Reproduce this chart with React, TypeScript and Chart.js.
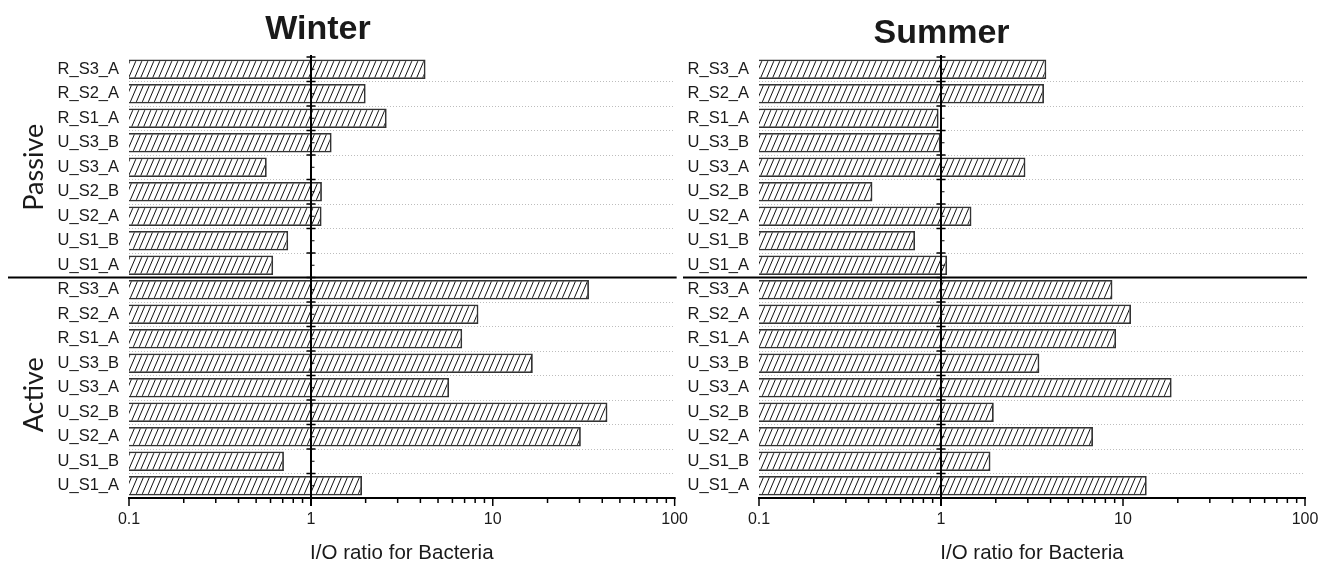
import React, { useEffect, useRef } from 'react';
import { Chart, registerables } from 'chart.js';
Chart.register(...registerables);

// ---------- data ----------
const categories = ['R_S3_A', 'R_S2_A', 'R_S1_A', 'U_S3_B', 'U_S3_A', 'U_S2_B', 'U_S2_A', 'U_S1_B', 'U_S1_A'];
const groupNames = ['Passive', 'Active'];
const winterPassive = [4.27, 2.0, 2.61, 1.3, 0.572, 1.15, 1.145, 0.75, 0.62];
const winterActive = [33.8, 8.34, 6.79, 16.6, 5.75, 42.7, 30.5, 0.711, 1.91];
const summerPassive = [3.79, 3.68, 0.97, 0.995, 2.91, 0.42, 1.47, 0.72, 1.08];
const summerActive = [8.75, 11.07, 9.16, 3.47, 18.5, 1.95, 6.84, 1.87, 13.5];
const xTickValues = [0.1, 1, 10, 100];
const xTickLabels = ['0.1', '1', '10', '100'];
const xMin = 0.1;
const xMax = 100;
const refValue = 1;
const axisTitle = 'I/O ratio for Bacteria';

// ---------- styles ----------
const TEXT = '#1a1a1a';
const SANS = '"Liberation Sans", Arial, sans-serif';
const H = 561;
const TOP = 57;
const BOTTOM_H = 63;

function makeHatch(): CanvasPattern | string {
  const c = document.createElement('canvas');
  c.width = 6;
  c.height = 14;
  const g = c.getContext('2d');
  if (!g) return '#fff';
  g.fillStyle = '#ffffff';
  g.fillRect(0, 0, 6, 14);
  g.strokeStyle = '#111111';
  g.lineWidth = 1;
  for (const x0 of [-6, 0, 6]) {
    g.beginPath();
    g.moveTo(x0, 14);
    g.lineTo(x0 + 6, 0);
    g.stroke();
  }
  return g.createPattern(c, 'repeat') || '#fff';
}

type PanelProps = {
  title: string;
  passive: number[];
  active: number[];
  left: number;
  width: number;
  plotLeft: number;
  padRight: number;
  titleX: number;
  titleY: number;
  sepStart: number;
  showGroups: boolean;
};

function Panel(p: PanelProps) {
  const ref = useRef<HTMLCanvasElement>(null);
  useEffect(() => {
    const canvas = ref.current;
    if (!canvas) return;
    const labels = [...categories, ...categories];
    const values = [...p.passive, ...p.active];
    const hatch = makeHatch();

    const overlay = {
      id: 'overlay',
      afterDatasetsDraw(chart: any) {
        const { ctx, chartArea: ca, scales } = chart;
        const x = scales.x;
        const y = scales.y;
        const n = labels.length;
        const step = (ca.bottom - ca.top) / n;
        const line = (x1: number, y1: number, x2: number, y2: number) => {
          ctx.beginPath();
          ctx.moveTo(x1, y1);
          ctx.lineTo(x2, y2);
          ctx.stroke();
        };
        ctx.save();
        ctx.strokeStyle = '#000';
        ctx.setLineDash([]);
        // reference line at 1
        const xr = Math.round(x.getPixelForValue(refValue));
        ctx.lineWidth = 2;
        line(xr, ca.top - 2, xr, ca.bottom + 8);
        ctx.lineWidth = 1.5;
        for (let i = 0; i <= n; i++) {
          const yy = ca.top + i * step;
          line(xr - 4.5, yy, xr + 4.5, yy);
        }
        ctx.lineWidth = 1;
        for (let i = 0; i < n; i++) {
          const yc = y.getPixelForValue(i);
          line(xr, yc, xr + 3.5, yc);
        }
        // x axis line and ticks
        ctx.lineWidth = 2;
        line(ca.left - 1, ca.bottom, ca.right + 1, ca.bottom);
        ctx.lineWidth = 1.5;
        for (const v of xTickValues) {
          const px = x.getPixelForValue(v);
          line(px, ca.bottom, px, ca.bottom + 8);
        }
        for (let d = 0; d < xTickValues.length - 1; d++) {
          for (let k = 2; k <= 9; k++) {
            const px = x.getPixelForValue(xTickValues[d] * k);
            line(px, ca.bottom, px, ca.bottom + 5);
          }
        }
        // separator between groups
        ctx.lineWidth = 2;
        const ys = ca.top + p.passive.length * step;
        line(p.sepStart, ys, ca.right + 2, ys);
        ctx.restore();
      },
      afterDraw(chart: any) {
        const { ctx, chartArea: ca } = chart;
        const n = labels.length;
        const step = (ca.bottom - ca.top) / n;
        ctx.save();
        ctx.fillStyle = TEXT;
        // title
        ctx.font = `bold 34px ${SANS}`;
        ctx.textAlign = 'center';
        ctx.textBaseline = 'alphabetic';
        ctx.fillText(p.title, p.titleX, p.titleY);
        // axis title
        ctx.font = `20.5px ${SANS}`;
        ctx.fillText(axisTitle, (ca.left + ca.right) / 2, 559);
        // group labels
        if (p.showGroups) {
          ctx.font = `27px Lato, "Open Sans", sans-serif`;
          const counts = [p.passive.length, p.active.length];
          const offsets = [0, 7];
          let start = 0;
          groupNames.forEach((g, gi) => {
            const yc = ca.top + (start + counts[gi] / 2) * step + offsets[gi];
            start += counts[gi];
            ctx.save();
            ctx.translate(43, yc);
            ctx.rotate(-Math.PI / 2);
            ctx.textAlign = 'center';
            ctx.textBaseline = 'alphabetic';
            ctx.fillText(g, 0, 0);
            ctx.restore();
          });
        }
        ctx.restore();
      },
    };

    const chart = new Chart(canvas, {
      type: 'bar',
      data: {
        labels,
        datasets: [
          {
            data: values,
            backgroundColor: hatch as any,
            borderColor: '#333333',
            borderWidth: 1.8,
            barPercentage: 0.8,
            categoryPercentage: 1,
          },
        ],
      },
      options: {
        responsive: false,
        animation: false,
        devicePixelRatio: 1,
        indexAxis: 'y',
        layout: { padding: { left: 0, right: p.padRight, top: TOP, bottom: 0 } },
        plugins: {
          legend: { display: false },
          tooltip: { enabled: false },
          title: { display: false },
        },
        scales: {
          x: {
            type: 'logarithmic',
            position: 'bottom',
            min: xMin,
            max: xMax,
            grid: { display: false, drawTicks: false },
            border: { display: false },
            afterBuildTicks: (s: any) => {
              s.ticks = xTickValues.map((v) => ({ value: v }));
            },
            afterFit: (s: any) => {
              s.height = BOTTOM_H;
            },
            ticks: {
              autoSkip: false,
              maxRotation: 0,
              padding: 12,
              color: TEXT,
              font: { family: SANS, size: 16 },
              callback: (_v: any, i: number) => xTickLabels[i],
            },
          },
          y: {
            type: 'category',
            offset: true,
            grid: {
              offset: true,
              drawTicks: false,
              lineWidth: 1,
              color: (c: any) => (c.index === 0 ? 'rgba(0,0,0,0)' : '#bdbdbd'),
            },
            border: { display: false, dash: [1, 2] },
            afterFit: (s: any) => {
              s.width = p.plotLeft;
            },
            ticks: {
              autoSkip: false,
              padding: 10,
              color: TEXT,
              font: { family: SANS, size: 16.5 },
            },
          },
        },
      } as any,
      plugins: [overlay],
    });
    return () => chart.destroy();
  }, []);
  return (
    <canvas
      ref={ref}
      width={p.width}
      height={H}
      style={{ position: 'absolute', left: p.left, top: 0, width: p.width, height: H }}
    />
  );
}

export default function App() {
  return (
    <div
      style={{
        position: 'fixed',
        left: 0,
        top: 0,
        width: 1321,
        height: H,
        background: '#fff',
        overflow: 'hidden',
      }}
    >
      <Panel
        title="Winter"
        passive={winterPassive}
        active={winterActive}
        left={0}
        width={700}
        plotLeft={129}
        padRight={25}
        titleX={318}
        titleY={39}
        sepStart={8}
        showGroups={true}
      />
      <Panel
        title="Summer"
        passive={summerPassive}
        active={summerActive}
        left={680}
        width={700}
        plotLeft={79}
        padRight={75}
        titleX={261.5}
        titleY={43}
        sepStart={3}
        showGroups={false}
      />
    </div>
  );
}
